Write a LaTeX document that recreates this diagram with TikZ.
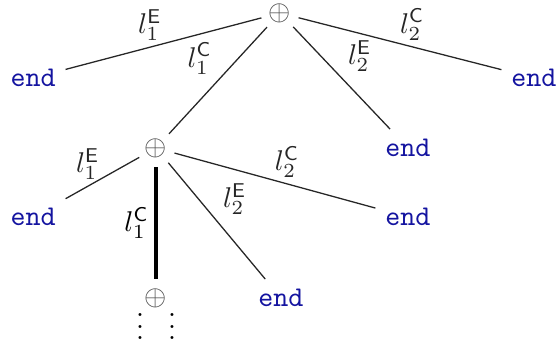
\documentclass[tikz,border=0pt]{standalone}
\usepackage{amsmath}
\definecolor{endblue}{RGB}{20,20,160}
\begin{document}
\begin{tikzpicture}[x=0.35pt, y=-0.35pt,
		opnode/.style = {circle, inner sep=1pt, text=black!70},
		endnode/.style = {text=endblue, font=\ttfamily},
		lbl/.style = {inner sep=2pt},
		br/.style = {line width=0.45pt, black!85}]

			\useasboundingbox (0, 0) rectangle (556, 343);

			\node[opnode] (p0) at (280, 13) {$\oplus$};
\node[opnode] (p1) at (156, 148) {$\oplus$};
\node[opnode] (p2) at (156, 298) {$\oplus$};

			\node[endnode] (e1) at (33, 78) {end};
\node[endnode] (e2) at (534, 78) {end};
\node[endnode] (e3) at (408, 148) {end};
\node[endnode] (e4) at (33, 217) {end};
\node[endnode] (e5) at (408, 217) {end};
\node[endnode] (e6) at (281, 298) {end};

			\node (d1) at (140, 318) {$\vdots$};
\node (d2) at (172, 318) {$\vdots$};

			\draw[br] (p0) -- node[lbl, pos=0.57, above] {$l_1^{\mathsf{E}}$} (e1);
\draw[br] (p0) -- node[lbl, pos=0.5, above left] {$l_1^{\mathsf{C}}$} (p1);
\draw[br] (p0) -- node[lbl, pos=0.56, above] {$l_2^{\mathsf{C}}$} (e2);
\draw[br] (p0) -- node[lbl, pos=0.5, above right] {$l_2^{\mathsf{E}}$} (e3);
\draw[br] (p1) -- node[lbl, pos=0.7, above] {$l_1^{\mathsf{E}}$} (e4);
\draw[line width=1.2pt] (p1) -- node[lbl, pos=0.5, left] {$l_1^{\mathsf{C}}$} (p2);
\draw[br] (p1) -- node[lbl, pos=0.56, above] {$l_2^{\mathsf{C}}$} (e5);
\draw[br] (p1) -- node[lbl, pos=0.5, above right] {$l_2^{\mathsf{E}}$} (e6);


		\end{tikzpicture}
\end{document}
